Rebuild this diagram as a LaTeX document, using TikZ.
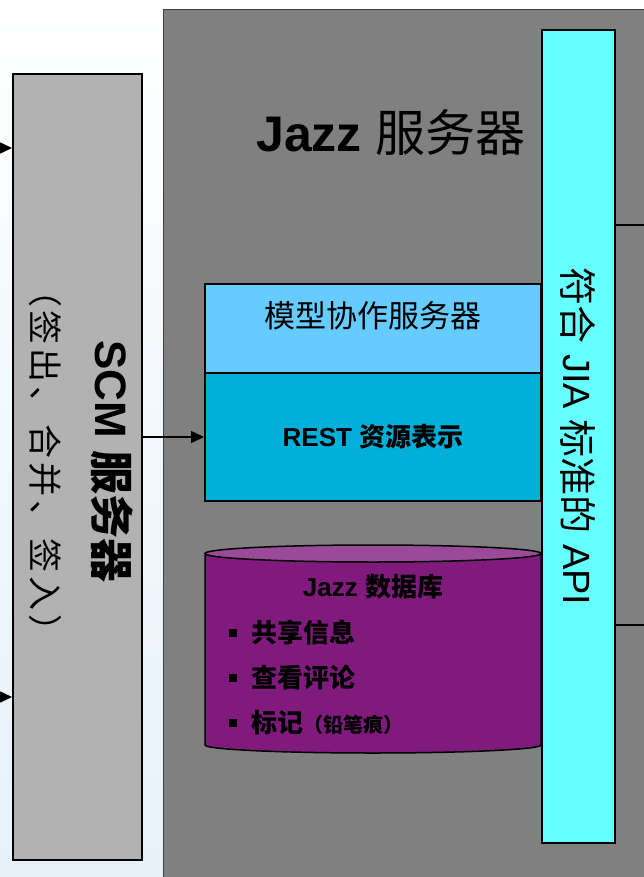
\documentclass[tikz,border=0pt]{standalone}
\usepackage{fontspec}
\setmainfont{Liberation Sans}
\newfontfamily\cjk{Noto Sans CJK SC}
\usetikzlibrary{arrows.meta}
\newcommand{\sz}[1]{\fontsize{#1}{#1}\selectfont}
\newcommand{\bul}{\rule[5.5pt]{8pt}{8pt}\hspace{14pt}}
\newcommand{\gp}{\hspace{4pt}}

\definecolor{bgblue}{RGB}{230,241,250}
\definecolor{servergray}{RGB}{128,128,128}
\definecolor{scmgray}{RGB}{178,178,178}
\definecolor{modelblue}{RGB}{102,204,255}
\definecolor{restblue}{RGB}{0,176,216}
\definecolor{dbpurple}{RGB}{128,26,124}
\definecolor{dbtop}{RGB}{154,74,152}
\definecolor{apicyan}{RGB}{102,255,255}

\begin{document}
\begin{tikzpicture}[
        x=1pt,
        y=-1pt,
        >={Triangle[length=13pt, width=12pt]},
        every node/.style={inner sep=0pt},
        box/.style={draw=black, line width=2pt, inner sep=0pt},
        link/.style={line width=1.5pt},
        rim/.style={draw=black, line width=1.5pt}
    ]
    \useasboundingbox (0,0) rectangle (643,877);
    \shade[top color=white, bottom color=bgblue] (0,0) rectangle (643,877);

    % outer server frame
    \node[draw=black!75, line width=1pt, fill=servergray, anchor=north west,
        minimum width=600, minimum height=900] (server) at (163,9) {};
    \node (servertitle) at (391,133) {\sz{50}\bfseries Jazz {\cjk\mdseries 服务器}};

    % SCM side box
    \node[box, fill=scmgray, minimum width=129, minimum height=786] (scm) at (77.5,467) {};
    \node[rotate=-90] (scmtitle) at (112,461) {\sz{44}\bfseries SCM {\cjk 服务器}};
    \node[rotate=-90] (scmnote) at (45,461)
        {\sz{34}\cjk （\gp 签\gp 出\gp 、\gp 合\gp 并\gp 、\gp 签\gp 入\gp ）};

    % model server and REST layer
    \node[box, fill=modelblue, minimum width=336, minimum height=89] (model) at (373,328.5) {};
    \node (modeltext) at (373,316) {\sz{31}\cjk 模型协作服务器};
    \node[box, fill=restblue, minimum width=336, minimum height=128] (rest) at (373,437)
        {\sz{26}\bfseries REST {\cjk 资源表示}};

    % database cylinder
    \fill[dbpurple] (205,553.5) -- (205,745)
        arc[start angle=180, end angle=0, x radius=168, y radius=8] -- (541,553.5) -- cycle;
    \draw[rim] (205,553.5) -- (205,745)
        arc[start angle=180, end angle=0, x radius=168, y radius=8] -- (541,553.5);
    \draw[rim, fill=dbtop] (373,553.5) ellipse [x radius=168, y radius=8.5];
    \node (dbtitle) at (373,587) {\sz{26}\bfseries Jazz {\cjk 数据库}};
    \node[anchor=west] (share) at (229,633) {\sz{26}\bfseries\cjk\bul 共享信息};
    \node[anchor=west] (review) at (229,678) {\sz{26}\bfseries\cjk\bul 查看评论};
    \node[anchor=west] (markup) at (229,723) {\sz{26}\bfseries\cjk\bul 标记{\sz{20}（铅笔痕）}};

    % API column
    \node[box, fill=apicyan, rotate=-90, minimum width=813, minimum height=73] (api) at (578.5,436.5)
        {\sz{38}{\cjk 符合} JIA {\cjk 标准的} API};

    % connectors
    \coordinate (feedtop) at (-20,148);
    \coordinate (feedbot) at (-20,697);
    \coordinate (outtop) at (660,225);
    \coordinate (outbot) at (660,625);
    \draw[link, ->] (feedtop) -- (feedtop -| scm.west);
    \draw[link, ->] (feedbot) -- (feedbot -| scm.west);
    \draw[link, ->] (scm.east |- rest.west) -- (rest.west);
    \draw[link] (api.north |- outtop) -- (outtop);
    \draw[link] (api.north |- outbot) -- (outbot);
\end{tikzpicture}
\end{document}
